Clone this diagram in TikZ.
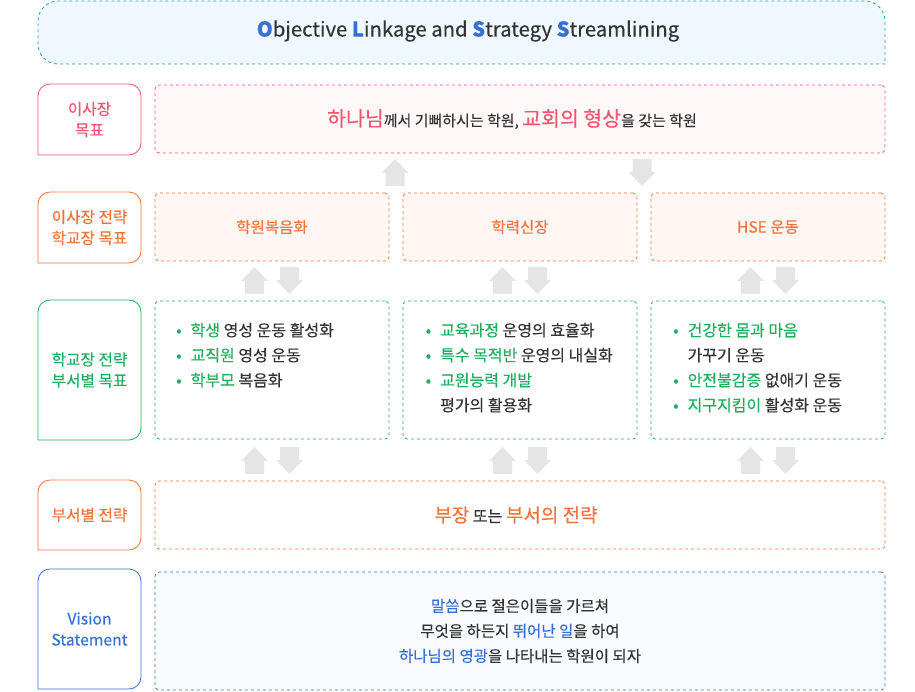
\documentclass[tikz,border=0pt]{standalone}
\usepackage{fontspec}
\setmainfont{Noto Sans CJK KR}[FakeBold=0.3]
\usetikzlibrary{positioning}
\definecolor{pinkc}{RGB}{242,86,111}
\definecolor{orangec}{RGB}{244,115,58}
\definecolor{greenc}{RGB}{29,175,94}
\definecolor{bluec}{RGB}{54,112,210}
\definecolor{skyc}{RGB}{42,154,216}
\definecolor{skybg}{RGB}{238,248,254}
\definecolor{pinkbg}{RGB}{255,248,249}
\definecolor{orangebg}{RGB}{255,247,243}
\definecolor{bluebg}{RGB}{248,250,254}
\definecolor{darkc}{RGB}{51,51,51}
\definecolor{arrgray}{RGB}{229,229,229}
\newcommand{\hlc}[2]{{\color{#1}#2}}
\begin{document}
\begin{tikzpicture}[x=1pt, y=-1pt,
    lab/.style={font=\fontsize{15.7}{21}\selectfont, align=center},
    goalbox/.style={draw, dashed, line width=0.8pt, rounded corners=4pt, inner sep=0pt, text=darkc},
    bigtxt/.style={font=\fontsize{15.5}{25}\selectfont, align=center},
    listtxt/.style={font=\fontsize{16}{25}\selectfont, text=darkc, anchor=north west, inner sep=0pt}]
    \useasboundingbox (0,0) rectangle (915,692);

    \draw[skyc, fill=skybg, dashed, line width=0.8pt, rounded corners=20pt]
        (885,64) -- (38,64) -- (38,1) -- (885,1) -- (885,64);
    \node[font=\fontsize{20.3}{20}\selectfont, text=darkc] (title) at (468,31)
        {\hlc{bluec}{\textbf{O}}bjective \hlc{bluec}{\textbf{L}}inkage and \hlc{bluec}{\textbf{S}}trategy \hlc{bluec}{\textbf{S}}treamlining};

    \foreach \ya/\yb/\c in {84/155/pinkc, 192/263/orangec, 300/440/greenc, 480/550/orangec, 569/689/bluec}
    \draw[\c, line width=0.8pt, rounded corners=12pt] (38,\yb) -- (38,\ya) -- (141,\ya) -- (141,\yb) -- (38,\yb);

    \node[lab, text=pinkc] (l1) at (89.5,119.5) {이사장\\목표};
    \node[lab, text=orangec] (l2) at (89.5,227.5) {이사장 전략\\학교장 목표};
    \node[lab, text=greenc] (l3) at (89.5,370) {학교장 전략\\부서별 목표};
    \node[lab, text=orangec] (l4) at (89.5,515) {부서별 전략};
    \node[lab, text=bluec] (l5) at (89.5,629) {Vision\\Statement};

    \node[goalbox, draw=pinkc, fill=pinkbg, minimum width=730pt, minimum height=68pt, font=\fontsize{15}{15}\selectfont] (goal) at (520,119)
        {\hlc{pinkc}{\fontsize{20.5}{20}\selectfont 하나님}께서 기뻐하시는 학원, \hlc{pinkc}{\fontsize{20.5}{20}\selectfont 교회의 형상}을 갖는 학원\kern16pt};

    \node[goalbox, draw=orangec, fill=orangebg, minimum width=234pt, minimum height=68pt, text=orangec, font=\fontsize{15.5}{15}\selectfont] (s1) at (272,227) {학원복음화};
    \node[goalbox, draw=orangec, fill=orangebg, minimum width=234pt, minimum height=68pt, text=orangec, font=\fontsize{15.5}{15}\selectfont] (s2) at (520,227) {학력신장};
    \node[goalbox, draw=orangec, fill=orangebg, minimum width=234pt, minimum height=68pt, text=orangec, font=\fontsize{15.5}{15}\selectfont] (s3) at (768,227) {HSE 운동};

    \node[goalbox, draw=greenc, fill=white, minimum width=234pt, minimum height=138pt] (d1) at (272,370) {};
    \node[goalbox, draw=greenc, fill=white, minimum width=234pt, minimum height=138pt] (d2) at (520,370) {};
    \node[goalbox, draw=greenc, fill=white, minimum width=234pt, minimum height=138pt] (d3) at (768,370) {};

    \node[listtxt] (t1) at (176,318.5) {\begin{tabular}{@{}l@{\hspace{9pt}}l@{}}
        \hlc{greenc}{•} & \hlc{greenc}{학생} 영성 운동 활성화\\
        \hlc{greenc}{•} & \hlc{greenc}{교직원} 영성 운동\\
        \hlc{greenc}{•} & \hlc{greenc}{학부모} 복음화
    \end{tabular}};
    \node[listtxt] (t2) at (425.5,318.5) {\begin{tabular}{@{}l@{\hspace{9pt}}l@{}}
        \hlc{greenc}{•} & \hlc{greenc}{교육과정} 운영의 효율화\\
        \hlc{greenc}{•} & \hlc{greenc}{특수 목적반} 운영의 내실화\\
        \hlc{greenc}{•} & \hlc{greenc}{교원능력 개발}\\
        & 평가의 활용화
    \end{tabular}};
    \node[listtxt] (t3) at (673,318.5) {\begin{tabular}{@{}l@{\hspace{9pt}}l@{}}
        \hlc{greenc}{•} & \hlc{greenc}{건강한 몸과 마음}\\
        & 가꾸기 운동\\
        \hlc{greenc}{•} & \hlc{greenc}{안전불감증} 없애기 운동\\
        \hlc{greenc}{•} & \hlc{greenc}{지구지킴이} 활성화 운동
    \end{tabular}};

    \node[goalbox, draw=orangec, fill=white, minimum width=730pt, minimum height=68pt, font=\fontsize{16}{16}\selectfont] (dept) at (520,515)
        {\hlc{orangec}{\fontsize{19}{19}\selectfont 부장} 또는 \hlc{orangec}{\fontsize{19}{19}\selectfont 부서의 전략}\kern8pt};

    \node[goalbox, draw=bluec, fill=bluebg, minimum width=730pt, minimum height=118pt, bigtxt] (vision) at (520,631)
        {\hlc{bluec}{말씀}으로 절은이들을 가르쳐\\
         무엇을 하든지 \hlc{bluec}{뛰어난 일}을 하여\\
         \hlc{bluec}{하나님의 영광}을 나타내는 학원이 되자};

    \foreach \x/\y in {395/159, 254.5/267, 502.5/267, 750.5/267, 254.5/447, 502.5/447, 750.5/447}
    \fill[arrgray] (\x,\y) -- ++(13.5,14) -- ++(-4,0) -- ++(0,13) -- ++(-19,0) -- ++(0,-13) -- ++(-4,0) -- cycle;

    \foreach \x/\y in {642/159, 289.5/267, 537.5/267, 785.5/267, 289.5/447, 537.5/447, 785.5/447}
    \fill[arrgray] (\x,\y) ++(-9.5,0) -- ++(19,0) -- ++(0,13) -- ++(4,0) -- ++(-13.5,14) -- ++(-13.5,-14) -- ++(4,0) -- cycle;
\end{tikzpicture}
\end{document}
